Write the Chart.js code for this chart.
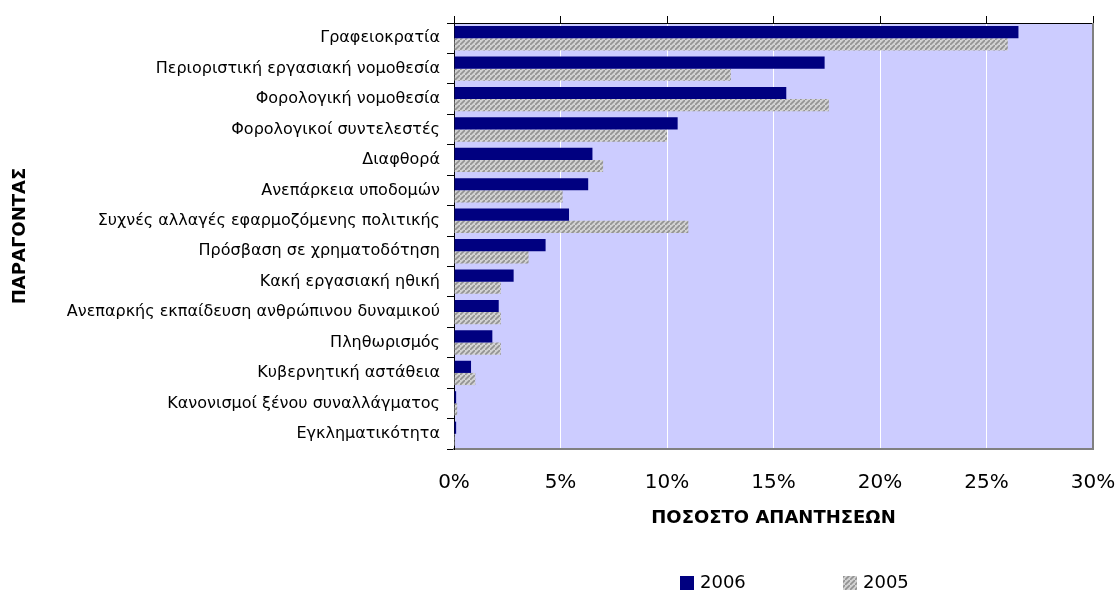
<!DOCTYPE html>
<html>
<head>
<meta charset="utf-8">
<script src="https://cdn.jsdelivr.net/npm/chart.js@4.4.0/dist/chart.umd.min.js"></script>
<style>
  html, body { margin: 0; padding: 0; background: #fff; }
</style>
</head>
<body>
<canvas id="chart" width="1116" height="592"></canvas>
<script>
// factors, top to bottom
const factors = [
    "Γραφειοκρατία",
    "Περιοριστική εργασιακή νομοθεσία",
    "Φορολογική νομοθεσία",
    "Φορολογικοί συντελεστές",
    "Διαφθορά",
    "Ανεπάρκεια υποδομών",
    "Συχνές αλλαγές εφαρμοζόμενης πολιτικής",
    "Πρόσβαση σε χρηματοδότηση",
    "Κακή εργασιακή ηθική",
    "Ανεπαρκής εκπαίδευση ανθρώπινου δυναμικού",
    "Πληθωρισμός",
    "Κυβερνητική αστάθεια",
    "Κανονισμοί ξένου συναλλάγματος",
    "Εγκληματικότητα"
];
const years = ["2006", "2005"];
const share2006 = [26.5, 17.4, 15.6, 10.5, 6.5, 6.3, 5.4, 4.3, 2.8, 2.1, 1.8, 0.8, 0.1, 0.1];
const share2005 = [26.0, 13.0, 17.6, 10.0, 7.0, 5.1, 11.0, 3.5, 2.2, 2.2, 2.2, 1.0, 0.15, 0.05];
const xMin = 0, xMax = 30, xStep = 5;

const FONT = "'DejaVu Sans', Verdana, sans-serif";
const canvas = document.getElementById("chart");
const ctx = canvas.getContext("2d");

// grey diagonal hatch for 2005
function makeHatch() {
    const n = 5;
    const p = document.createElement("canvas");
    p.width = n; p.height = n;
    const g = p.getContext("2d");
    g.fillStyle = "#d2d2d2";
    g.fillRect(0, 0, n, n);
    g.strokeStyle = "#929292";
    g.lineWidth = 1.6;
    g.beginPath();
    g.moveTo(-1, n + 1); g.lineTo(n + 1, -1);
    g.moveTo(-n - 1, 1); g.lineTo(1, -n - 1);
    g.moveTo(n - 1, 2 * n + 1); g.lineTo(2 * n + 1, n - 1);
    g.stroke();
    return ctx.createPattern(p, "repeat");
}
const hatch = makeHatch();
const navy = "#000080";

const plotDecor = {
    id: "plotDecor",
    beforeDraw(chart) {
        const a = chart.chartArea;
        const c = chart.ctx;
        c.save();
        c.fillStyle = "#ccccff";
        c.fillRect(a.left, a.top, a.right - a.left, a.bottom - a.top);
        c.restore();
    },
    afterDraw(chart) {
        const a = chart.chartArea;
        const c = chart.ctx;
        c.save();
        // right border of plot area
        c.strokeStyle = "#808080";
        c.lineWidth = 2;
        c.beginPath();
        c.moveTo(a.right, a.top);
        c.lineTo(a.right, a.bottom + 1);
        c.stroke();

        // x axis title
        c.fillStyle = "#000";
        c.font = "bold 18px " + FONT;
        c.textAlign = "center";
        c.textBaseline = "middle";
        c.fillText("ΠΟΣΟΣΤΟ ΑΠΑΝΤΗΣΕΩΝ", (a.left + a.right) / 2, 518);

        // legend
        const items = chart.data.datasets;
        const xs = [680, 843];
        c.font = "18px " + FONT;
        c.textAlign = "left";
        items.forEach((ds, i) => {
            c.fillStyle = ds.backgroundColor;
            c.fillRect(xs[i], 576, 14, 14);
            c.fillStyle = "#000";
            c.fillText(ds.label, xs[i] + 20, 583);
        });
        c.restore();
    }
};

new Chart(ctx, {
    type: "bar",
    data: {
        labels: factors,
        datasets: [
            { label: years[0], data: share2006, backgroundColor: navy, borderWidth: 0 },
            { label: years[1], data: share2005, backgroundColor: hatch, borderWidth: 0 }
        ]
    },
    options: {
        indexAxis: "y",
        responsive: false,
        animation: false,
        categoryPercentage: 0.8,
        barPercentage: 1.0,
        layout: { padding: 0 },
        plugins: {
            legend: { display: false },
            tooltip: { enabled: false }
        },
        scales: {
            x: {
                type: "linear",
                position: "bottom",
                min: xMin,
                max: xMax,
                ticks: {
                    stepSize: xStep,
                    callback: v => v + "%",
                    color: "#000",
                    font: { family: FONT, size: 20 },
                    padding: 22,
                    maxRotation: 0
                },
                grid: { color: "#ffffff", lineWidth: 1, drawTicks: false },
                border: { color: "#808080", width: 2 },
                afterFit: s => { s.height = 143; s.paddingRight = 23; s.paddingLeft = 0; }
            },
            xTop: {
                type: "linear",
                position: "top",
                min: xMin,
                max: xMax,
                ticks: { stepSize: xStep, display: false },
                grid: { drawOnChartArea: false, drawTicks: true, tickLength: 7, color: "#000" },
                border: { color: "#000", width: 1 },
                afterFit: s => { s.height = 23; s.paddingRight = 0; s.paddingLeft = 0; }
            },
            y: {
                ticks: {
                    color: "#000",
                    font: { family: FONT, size: 16 },
                    padding: 7
                },
                grid: { drawOnChartArea: false, tickLength: 7, color: "#000" },
                border: { color: "#000", width: 1 },
                title: {
                    display: true,
                    text: "ΠΑΡΑΓΟΝΤΑΣ",
                    color: "#000",
                    font: { family: FONT, size: 18, weight: "bold" },
                    padding: { top: 10, bottom: 0 }
                },
                afterFit: s => { s.width = 454; }
            }
        }
    },
    plugins: [plotDecor]
});
</script>
</body>
</html>
